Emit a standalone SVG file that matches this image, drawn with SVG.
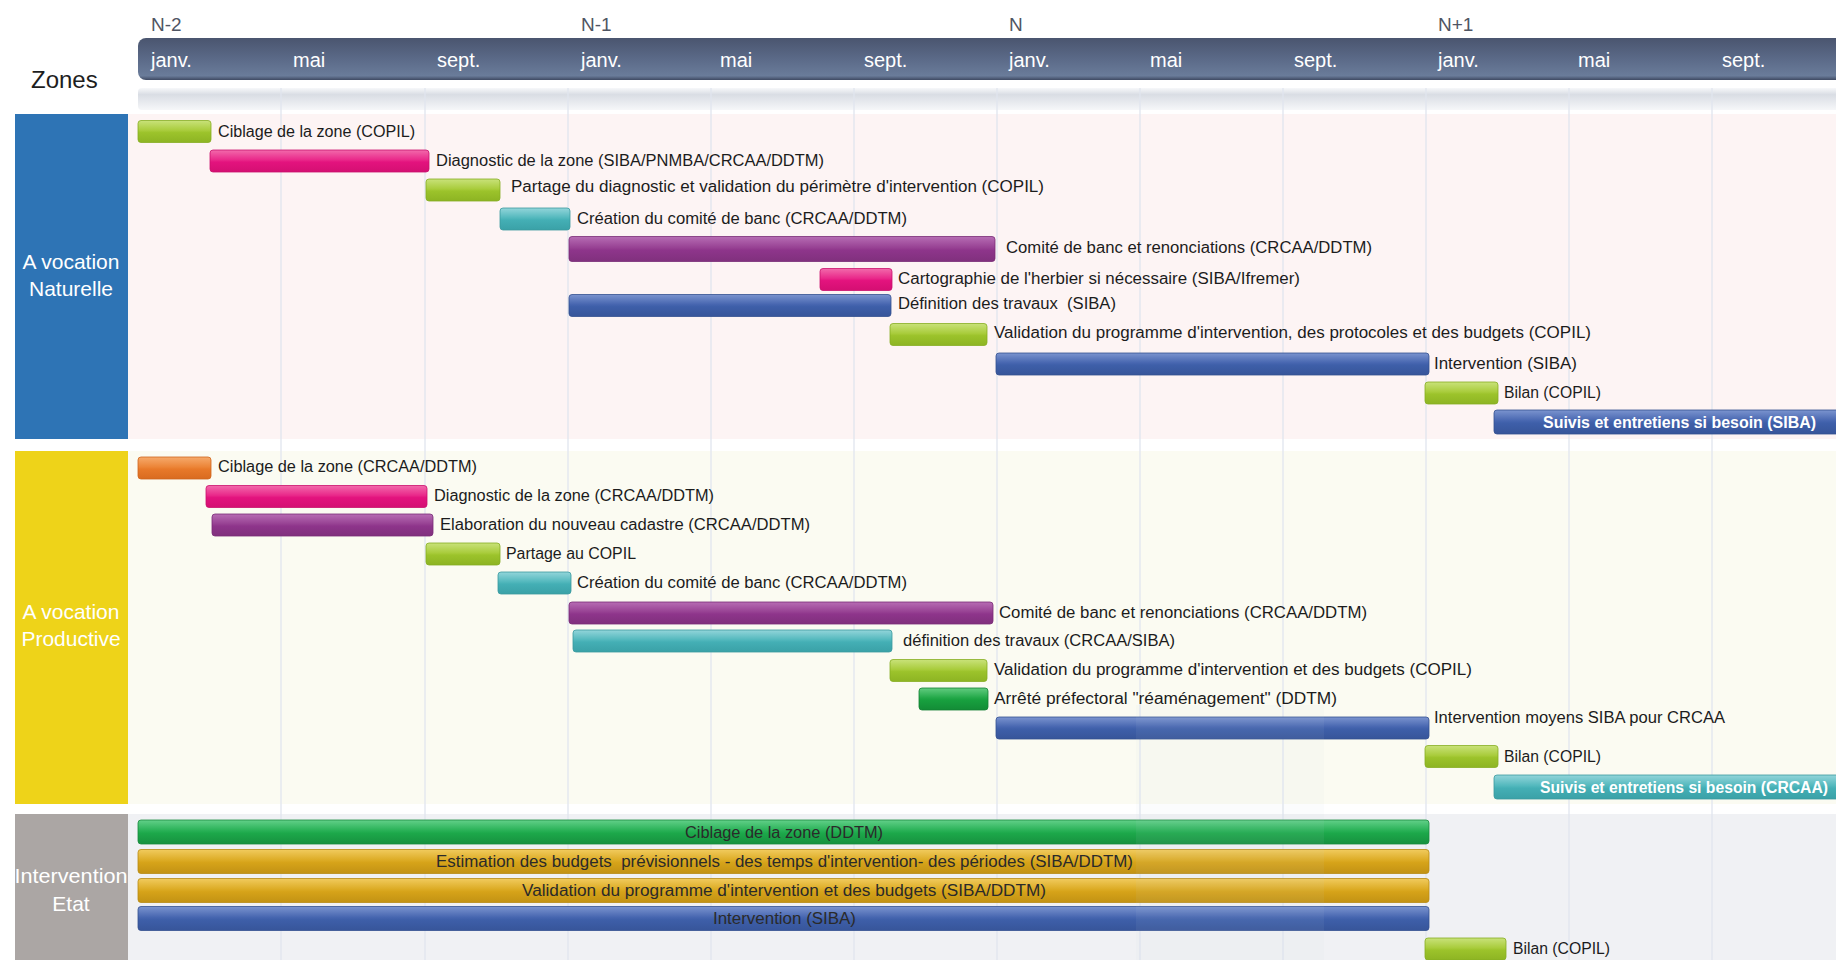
<svg xmlns="http://www.w3.org/2000/svg" width="1836" height="960" viewBox="0 0 1836 960">
<style>
text{font-family:"Liberation Sans",Arial,sans-serif;white-space:pre}
.lbl{font-size:16px;fill:#1c1c1c}
.in{font-size:16px;fill:#2a2a2a}
.wb{font-size:16px;fill:#fff;font-weight:bold}
.mon{font-size:20px;fill:#fff}
.yr{font-size:19px;fill:#4f5563}
.zone{font-size:21px;fill:#fff;text-anchor:middle}
.grid{stroke:#e0e5ee;stroke-width:1.3}
.lime{fill:url(#gLime);stroke:#86ad22;stroke-width:.8}
.pink{fill:url(#gPink);stroke:#c90f6c;stroke-width:.8}
.teal{fill:url(#gTeal);stroke:#3a9aa0;stroke-width:.8}
.purple{fill:url(#gPurple);stroke:#782b76;stroke-width:.8}
.blue{fill:url(#gBlue);stroke:#33508f;stroke-width:.8}
.orange{fill:url(#gOrange);stroke:#cf661c;stroke-width:.8}
.dkgreen{fill:url(#gDk);stroke:#118233;stroke-width:.8}
.green3{fill:url(#gG3);stroke:#168a3c;stroke-width:.8}
.gold{fill:url(#gGold);stroke:#b88a12;stroke-width:.8}
</style>
<defs>
<linearGradient id="gLime" x1="0" y1="0" x2="0" y2="1"><stop offset="0" stop-color="#c9e27a"/><stop offset=".45" stop-color="#a9cc3c"/><stop offset=".55" stop-color="#9cc32b"/><stop offset="1" stop-color="#8db423"/></linearGradient>
<linearGradient id="gPink" x1="0" y1="0" x2="0" y2="1"><stop offset="0" stop-color="#f26aab"/><stop offset=".45" stop-color="#e9288a"/><stop offset=".55" stop-color="#e3137e"/><stop offset="1" stop-color="#d40f72"/></linearGradient>
<linearGradient id="gTeal" x1="0" y1="0" x2="0" y2="1"><stop offset="0" stop-color="#93d5da"/><stop offset=".45" stop-color="#52b8bd"/><stop offset=".55" stop-color="#44afb5"/><stop offset="1" stop-color="#3aa1a7"/></linearGradient>
<linearGradient id="gPurple" x1="0" y1="0" x2="0" y2="1"><stop offset="0" stop-color="#b76db4"/><stop offset=".45" stop-color="#974193"/><stop offset=".55" stop-color="#8e358b"/><stop offset="1" stop-color="#80307d"/></linearGradient>
<linearGradient id="gBlue" x1="0" y1="0" x2="0" y2="1"><stop offset="0" stop-color="#7b94cf"/><stop offset=".45" stop-color="#4766b0"/><stop offset=".55" stop-color="#3e5fa9"/><stop offset="1" stop-color="#37559a"/></linearGradient>
<linearGradient id="gOrange" x1="0" y1="0" x2="0" y2="1"><stop offset="0" stop-color="#f6aa6c"/><stop offset=".45" stop-color="#ec8538"/><stop offset=".55" stop-color="#e8792a"/><stop offset="1" stop-color="#d96b20"/></linearGradient>
<linearGradient id="gDk" x1="0" y1="0" x2="0" y2="1"><stop offset="0" stop-color="#62cc80"/><stop offset=".45" stop-color="#22a848"/><stop offset=".55" stop-color="#18a03f"/><stop offset="1" stop-color="#138c36"/></linearGradient>
<linearGradient id="gG3" x1="0" y1="0" x2="0" y2="1"><stop offset="0" stop-color="#62d089"/><stop offset=".45" stop-color="#27b055"/><stop offset=".55" stop-color="#1ca84a"/><stop offset="1" stop-color="#17913f"/></linearGradient>
<linearGradient id="gGold" x1="0" y1="0" x2="0" y2="1"><stop offset="0" stop-color="#f1cb5e"/><stop offset=".45" stop-color="#dcab24"/><stop offset=".55" stop-color="#d6a319"/><stop offset="1" stop-color="#c29214"/></linearGradient>
<linearGradient id="gHead" x1="0" y1="0" x2="0" y2="1"><stop offset="0" stop-color="#4a556f"/><stop offset=".5" stop-color="#5b6a88"/><stop offset=".9" stop-color="#6a7c9a"/><stop offset="1" stop-color="#3f4a63"/></linearGradient>
<linearGradient id="gStrip" x1="0" y1="0" x2="0" y2="1"><stop offset="0" stop-color="#f7f8fa"/><stop offset=".3" stop-color="#d9dde4"/><stop offset="1" stop-color="#f6f7f9"/></linearGradient>
</defs>

<g id="timeline-header">
<text class="yr" x="151" y="31">N-2</text>
<text class="yr" x="581" y="31">N-1</text>
<text class="yr" x="1009" y="31">N</text>
<text class="yr" x="1438" y="31">N+1</text>
<rect x="138" y="38" width="1720" height="42" rx="8" fill="url(#gHead)"/>
<text class="mon" x="151" y="67">janv.</text>
<text class="mon" x="293" y="67">mai</text>
<text class="mon" x="437" y="67">sept.</text>
<text class="mon" x="581" y="67">janv.</text>
<text class="mon" x="720" y="67">mai</text>
<text class="mon" x="864" y="67">sept.</text>
<text class="mon" x="1009" y="67">janv.</text>
<text class="mon" x="1150" y="67">mai</text>
<text class="mon" x="1294" y="67">sept.</text>
<text class="mon" x="1438" y="67">janv.</text>
<text class="mon" x="1578" y="67">mai</text>
<text class="mon" x="1722" y="67">sept.</text>
<rect x="138" y="88" width="1710" height="22" rx="4" fill="url(#gStrip)"/>
<text x="31" y="88" font-size="24" fill="#1e1e1e">Zones</text>
</g>

<g id="zone-backgrounds">
<rect x="128" y="114" width="1708" height="325" fill="#fdf4f4"/>
<rect x="128" y="451" width="1708" height="353" fill="#fbfbf2"/>
<rect x="128" y="814" width="1708" height="146" fill="#f0f1f4"/>
</g>

<g id="grid">
<line class="grid" x1="281" y1="88" x2="281" y2="960"/>
<line class="grid" x1="425" y1="88" x2="425" y2="960"/>
<line class="grid" x1="568" y1="88" x2="568" y2="960"/>
<line class="grid" x1="711" y1="88" x2="711" y2="960"/>
<line class="grid" x1="854" y1="88" x2="854" y2="960"/>
<line class="grid" x1="997" y1="88" x2="997" y2="960"/>
<line class="grid" x1="1140" y1="88" x2="1140" y2="960"/>
<line class="grid" x1="1283" y1="88" x2="1283" y2="960"/>
<line class="grid" x1="1426" y1="88" x2="1426" y2="960"/>
<line class="grid" x1="1569" y1="88" x2="1569" y2="960"/>
<line class="grid" x1="1712" y1="88" x2="1712" y2="960"/>
</g>

<g id="zone-naturelle">
<rect x="15" y="114" width="113" height="325" fill="#2e74b5"/>
<text class="zone" x="71" y="269">A vocation</text>
<text class="zone" x="71" y="296">Naturelle</text>
</g>
<g id="zone-productive">
<rect x="15" y="451" width="113" height="353" fill="#eed319"/>
<text class="zone" x="71" y="619">A vocation</text>
<text class="zone" x="71" y="646">Productive</text>
</g>
<g id="zone-etat">
<rect x="15" y="814" width="113" height="146" fill="#aba6a4"/>
<text class="zone" x="71" y="883" textLength="113" lengthAdjust="spacingAndGlyphs">Intervention</text>
<text class="zone" x="71" y="911">Etat</text>
</g>

<g id="tasks-naturelle">
<g id="n1"><rect class="lime" x="138" y="120.5" width="73" height="22" rx="3"/><text class="lbl" x="218" y="137" textLength="197" lengthAdjust="spacingAndGlyphs">Ciblage de la zone (COPIL)</text></g>
<g id="n2"><rect class="pink" x="210" y="150" width="219" height="22" rx="3"/><text class="lbl" x="436" y="166" textLength="388" lengthAdjust="spacingAndGlyphs">Diagnostic de la zone (SIBA/PNMBA/CRCAA/DDTM)</text></g>
<g id="n3"><rect class="lime" x="426" y="179" width="74" height="22" rx="3"/><text class="lbl" x="511" y="192" textLength="533" lengthAdjust="spacingAndGlyphs">Partage du diagnostic et validation du périmètre d'intervention (COPIL)</text></g>
<g id="n4"><rect class="teal" x="500" y="208" width="70" height="22" rx="3"/><text class="lbl" x="577" y="224" textLength="330" lengthAdjust="spacingAndGlyphs">Création du comité de banc (CRCAA/DDTM)</text></g>
<g id="n5"><rect class="purple" x="569" y="236.5" width="426" height="25" rx="3"/><text class="lbl" x="1006" y="253" textLength="366" lengthAdjust="spacingAndGlyphs">Comité de banc et renonciations (CRCAA/DDTM)</text></g>
<g id="n6"><rect class="pink" x="820" y="268.5" width="72" height="22" rx="3"/><text class="lbl" x="898" y="283.5" textLength="402" lengthAdjust="spacingAndGlyphs">Cartographie de l'herbier si nécessaire (SIBA/Ifremer)</text></g>
<g id="n7"><rect class="blue" x="569" y="294.5" width="322" height="22" rx="3"/><text class="lbl" x="898" y="309" textLength="218" lengthAdjust="spacingAndGlyphs">Définition des travaux  (SIBA)</text></g>
<g id="n8"><rect class="lime" x="890" y="323.5" width="97" height="22" rx="3"/><text class="lbl" x="994" y="337.5" textLength="597" lengthAdjust="spacingAndGlyphs">Validation du programme d'intervention, des protocoles et des budgets (COPIL)</text></g>
<g id="n9"><rect class="blue" x="996" y="353" width="433" height="22" rx="3"/><text class="lbl" x="1434" y="369" textLength="143" lengthAdjust="spacingAndGlyphs">Intervention (SIBA)</text></g>
<g id="n10"><rect class="lime" x="1425" y="382" width="73" height="22" rx="3"/><text class="lbl" x="1504" y="398" textLength="97" lengthAdjust="spacingAndGlyphs">Bilan (COPIL)</text></g>
<g id="n11"><rect class="blue" x="1494" y="410" width="360" height="24" rx="3"/><text class="wb" x="1543" y="427.5" textLength="273" lengthAdjust="spacingAndGlyphs">Suivis et entretiens si besoin (SIBA)</text></g>
</g>

<g id="tasks-productive">
<g id="p1"><rect class="orange" x="138" y="457" width="73" height="22" rx="3"/><text class="lbl" x="218" y="472" textLength="259" lengthAdjust="spacingAndGlyphs">Ciblage de la zone (CRCAA/DDTM)</text></g>
<g id="p2"><rect class="pink" x="206" y="485.5" width="221" height="22" rx="3"/><text class="lbl" x="434" y="501" textLength="280" lengthAdjust="spacingAndGlyphs">Diagnostic de la zone (CRCAA/DDTM)</text></g>
<g id="p3"><rect class="purple" x="212" y="514" width="221" height="22" rx="3"/><text class="lbl" x="440" y="530" textLength="370" lengthAdjust="spacingAndGlyphs">Elaboration du nouveau cadastre (CRCAA/DDTM)</text></g>
<g id="p4"><rect class="lime" x="426" y="543" width="74" height="22" rx="3"/><text class="lbl" x="506" y="559" textLength="130" lengthAdjust="spacingAndGlyphs">Partage au COPIL</text></g>
<g id="p5"><rect class="teal" x="498" y="572" width="73" height="22" rx="3"/><text class="lbl" x="577" y="588" textLength="330" lengthAdjust="spacingAndGlyphs">Création du comité de banc (CRCAA/DDTM)</text></g>
<g id="p6"><rect class="purple" x="569" y="602" width="424" height="22" rx="3"/><text class="lbl" x="999" y="618" textLength="368" lengthAdjust="spacingAndGlyphs">Comité de banc et renonciations (CRCAA/DDTM)</text></g>
<g id="p7"><rect class="teal" x="573" y="630" width="319" height="22" rx="3"/><text class="lbl" x="903" y="646" textLength="272" lengthAdjust="spacingAndGlyphs">définition des travaux (CRCAA/SIBA)</text></g>
<g id="p8"><rect class="lime" x="890" y="659.5" width="97" height="22" rx="3"/><text class="lbl" x="994" y="675" textLength="478" lengthAdjust="spacingAndGlyphs">Validation du programme d'intervention et des budgets (COPIL)</text></g>
<g id="p9"><rect class="dkgreen" x="919" y="688" width="69" height="22" rx="3"/><text class="lbl" x="994" y="704" textLength="343" lengthAdjust="spacingAndGlyphs">Arrêté préfectoral "réaménagement" (DDTM)</text></g>
<g id="p10"><rect class="blue" x="996" y="717" width="433" height="22" rx="3"/><text class="lbl" x="1434" y="723" textLength="291" lengthAdjust="spacingAndGlyphs">Intervention moyens SIBA pour CRCAA</text></g>
<g id="p11"><rect class="lime" x="1425" y="745.5" width="73" height="22" rx="3"/><text class="lbl" x="1504" y="761.5" textLength="97" lengthAdjust="spacingAndGlyphs">Bilan (COPIL)</text></g>
<g id="p12"><rect class="teal" x="1494" y="775" width="360" height="24" rx="3"/><text class="wb" x="1540" y="792.5" textLength="288" lengthAdjust="spacingAndGlyphs">Suivis et entretiens si besoin (CRCAA)</text></g>
</g>

<g id="tasks-etat">
<g id="e1"><rect class="green3" x="138" y="820" width="1291" height="24" rx="3"/><text class="in" x="685" y="837.5" textLength="198" lengthAdjust="spacingAndGlyphs">Ciblage de la zone (DDTM)</text></g>
<g id="e2"><rect class="gold" x="138" y="849.5" width="1291" height="24" rx="3"/><text class="in" x="436" y="867" textLength="697" lengthAdjust="spacingAndGlyphs">Estimation des budgets  prévisionnels - des temps d'intervention- des périodes (SIBA/DDTM)</text></g>
<g id="e3"><rect class="gold" x="138" y="878.5" width="1291" height="24" rx="3"/><text class="in" x="522" y="896" textLength="524" lengthAdjust="spacingAndGlyphs">Validation du programme d'intervention et des budgets (SIBA/DDTM)</text></g>
<g id="e4"><rect class="blue" x="138" y="906.5" width="1291" height="24" rx="3"/><text class="in" x="713" y="924" textLength="143" lengthAdjust="spacingAndGlyphs">Intervention (SIBA)</text></g>
<g id="e5"><rect class="lime" x="1425" y="938" width="81" height="22" rx="3"/><text class="lbl" x="1513" y="954" textLength="97" lengthAdjust="spacingAndGlyphs">Bilan (COPIL)</text></g>
</g>

<rect x="1136" y="705" width="188" height="255" fill="#c8d0dc" opacity=".07"/>
<g id="connectors"/>
</svg>
